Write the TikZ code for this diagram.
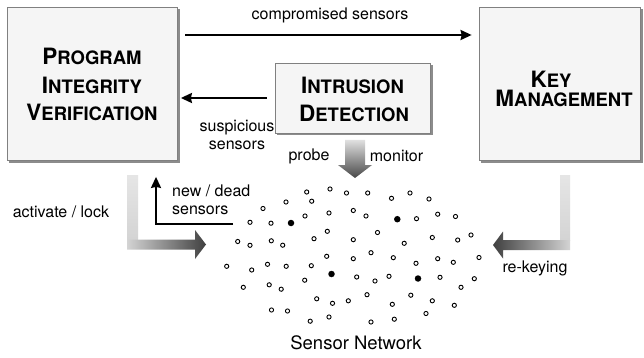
\documentclass[tikz,border=0pt]{standalone}
\usepackage{fontspec}
\setmainfont{TeX Gyre Heros}
\usetikzlibrary{arrows.meta}
\newcommand\capA[1]{{\fontsize{22.5}{22}\selectfont #1}}
\newcommand\capB[1]{{\fontsize{18.5}{18}\selectfont #1}}
\tikzset{
  boxfill/.style={draw=black!50, line width=0.8pt, fill=black!4, inner sep=0pt},
  boxshadow/.style={fill=black!45},
  lbl/.style={font=\fontsize{16}{18}\selectfont, inner sep=0pt},
  ttl/.style={inner sep=0pt, anchor=base, font=\bfseries},
  blk/.style={line width=2pt, -{Stealth[length=11pt,width=10pt,inset=1pt]}},
  sensor/.style={draw, line width=0.9pt, fill=white, circle, inner sep=0pt, minimum size=4.2pt},
  cluster/.style={fill=black, circle, inner sep=0pt, minimum size=6.5pt},
}
\begin{document}
\begin{tikzpicture}[x=1pt,y=-1pt]
\useasboundingbox[fill=white] (0,0) rectangle (644,358);

% shadows
\fill[boxshadow] (9,9) rectangle (179.5,162.5);
\fill[boxshadow] (481,9) rectangle (642.5,162.5);
\fill[boxshadow] (277,65) rectangle (432.5,135.5);

% boxes
\node[boxfill, minimum width=170pt, minimum height=153pt] (piv) at (92,83.5) {};
\node[boxfill, minimum width=161pt, minimum height=153pt] (km) at (559.5,83.5) {};
\node[boxfill, minimum width=155pt, minimum height=70pt] (id) at (352.5,98) {};

% titles
\node[ttl] (p1) at (92,65) {\capA{P}\capB{ROGRAM}};
\node[ttl] (p2) at (92,93.3) {\capA{I}\capB{NTEGRITY}};
\node[ttl] (p3) at (92,120.7) {\capA{V}\capB{ERIFICATION}};
\node[ttl] (k1) at (551,87.3) {\capA{K}\capB{EY}};
\node[ttl] (k2) at (564,106.7) {\capA{M}\capB{ANAGEMENT}};
\node[ttl] (i1) at (352.5,93.3) {\capA{I}\capB{NTRUSION}};
\node[ttl] (i2) at (354,121.7) {\capA{D}\capB{ETECTION}};

% black arrows
\draw[blk, shorten <=8pt, shorten >=7pt] (piv.east |- 0,35) -- (km.west |- 0,35);
\draw[blk, shorten <=8pt, shorten >=3.5pt] (id.west |- 0,98) -- (piv.east |- 0,98);
\coordinate (nd) at (233,224.3);
\coordinate (ndc) at (156,224.3);
\draw[blk, shorten >=16.5pt] (nd) -- (ndc) -- (piv.south -| ndc);

% labels
\node[lbl] (lc) at (330,15) {compromised sensors};
\node[lbl, align=center] (ls) at (237,135) {suspicious\\sensors};
\node[lbl] (lp) at (309,156) {probe};
\node[lbl] (lm) at (396.5,156) {monitor};
\node[lbl, align=left, anchor=west] (ln) at (172,200) {new / dead\\sensors};
\node[lbl] (la) at (61,212) {activate / lock};
\node[lbl] (lr) at (535,268) {re-keying};
\node[font=\fontsize{18.5}{20}\selectfont, inner sep=0pt] (lsn) at (356,343) {Sensor Network};

% gradient arrows
\shade[top color=black!12, bottom color=black!72] (345,140) -- (365,140) -- (365,165) -- (372,165) -- (355,178) -- (338,165) -- (345,165) -- cycle;
\shade[top color=black!10, bottom color=black!17] (127,175) rectangle (138,240);
\shade[left color=black!17, right color=black!75] (127,239.5) -- (195,239.5) -- (195,230) -- (206,244.5) -- (195,259) -- (195,249.5) -- (127,249.5) -- cycle;
\shade[top color=black!10, bottom color=black!17] (560,175) rectangle (570,240.5);
\shade[left color=black!75, right color=black!17] (570,240) -- (503,240) -- (503,231.5) -- (493,245) -- (503,258.5) -- (503,250) -- (570,250) -- cycle;

% sensors
\foreach \p [count=\i] in {(306.7,192),(330,189),(346.5,193),(367.7,193),(391.5,198.3),(410,193),(429,199),
(286,202),(311.7,201.2),(263,208.5),
(305,216),(329,213),(353.3,210.5),(366,216),(416.5,218.7),(437.7,214.2),(455.5,216.5),
(250,222.3),(271,223.2),
(327.3,231.3),(377.5,232.5),(314,238.7),(353.3,239.7),(404.2,243.3),(432.3,237.5),(457.7,240),(471,235),
(237.7,241.5),(250,245.3),(271.3,240.8),(282.7,245.2),
(326.7,256.3),(353.3,258.7),(371,252.7),(393.3,257.7),(416,263.3),(437.7,258.7),(453.3,262.3),(479,257.5),
(226.7,266.3),(251.7,270),(267.5,264.3),(286.2,266.3),(311.3,265.7),
(304.7,280.2),(356.7,277),(375,281),(389,276.3),(440,277.3),(474.3,278.7),
(243.3,287.3),(269.2,284.8),(281.2,289.2),(461,287.3),
(316.7,298.8),(332.5,303.3),(348.3,300.8),(367,294.7),(392.3,304.3),(410.8,295.2),(432.3,300.8),(454.3,305.3),
(271.5,310),(287.5,311),(310.2,321.2),(329,317),(371,322),(394.3,319.2),(426,313.5)}
  \node[sensor] (s\i) at \p {};
\foreach \p [count=\i] in {(291,223),(397.3,219.2),(331.5,274),(418,278.5)}
  \node[cluster] (c\i) at \p {};
\end{tikzpicture}
\end{document}
